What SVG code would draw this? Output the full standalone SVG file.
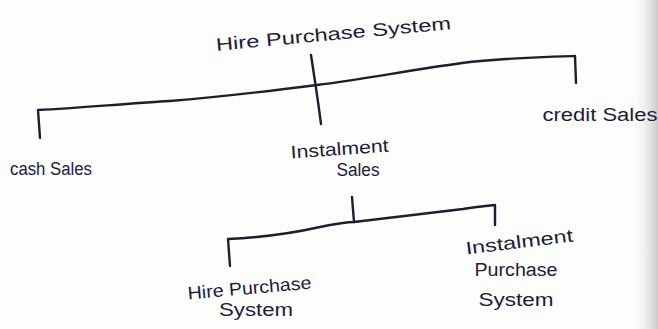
<svg xmlns="http://www.w3.org/2000/svg" width="658" height="329" viewBox="0 0 658 329">
  <defs>
    <linearGradient id="edge" x1="0" y1="0" x2="1" y2="0">
      <stop offset="0" stop-color="#ffffff" stop-opacity="0"/>
      <stop offset="1" stop-color="#bdbdbd" stop-opacity="0.8"/>
    </linearGradient>
    <style>
      .ln { fill: none; stroke: #1c1c34; stroke-width: 2.4; stroke-linecap: round; stroke-linejoin: round; }
      .tx { font-family: "Liberation Sans", "DejaVu Sans", sans-serif; fill: #1c1c3c; font-size: 18px; }
    </style>
  </defs>
  <rect width="658" height="329" fill="#fdfdfc"/>
  <rect x="630" y="0" width="28" height="329" fill="url(#edge)"/>

  <g id="connectors">
    <path class="ln" d="M311,55 C314,75 318,100 321,124"/>
    <path class="ln" d="M40,138 L38,110 C80,108 120,104 170,101 C220,97 270,91 317,85 C360,80 410,70 462,63 C500,58 540,57 575,56 L576,83"/>
    <path class="ln" d="M352,197 L354,222"/>
    <path class="ln" d="M230,266 L228,239 C250,238 280,236 320,227 C335,224 345,222 354,222 C380,219 420,214 463,209 C475,207 485,206 495,205 L495,225"/>
  </g>

  <g id="node-root">
    <text class="tx" x="334" y="40" text-anchor="middle" font-size="23" textLength="236" lengthAdjust="spacingAndGlyphs" transform="rotate(-5.3 334 40)">Hire Purchase System</text>
  </g>
  <g id="node-cash">
    <text class="tx" x="51" y="175" text-anchor="middle" font-size="17" textLength="82" lengthAdjust="spacingAndGlyphs">cash Sales</text>
  </g>
  <g id="node-instalment-sales">
    <text class="tx" x="340" y="155" text-anchor="middle" font-size="18" textLength="98" lengthAdjust="spacingAndGlyphs" transform="rotate(-4 340 155)">Instalment</text>
    <text class="tx" x="358" y="176" text-anchor="middle" font-size="18" textLength="43" lengthAdjust="spacingAndGlyphs">Sales</text>
  </g>
  <g id="node-credit">
    <text class="tx" x="600" y="121" text-anchor="middle" font-size="18" textLength="115" lengthAdjust="spacingAndGlyphs">credit Sales</text>
  </g>
  <g id="node-hire-purchase">
    <text class="tx" x="250" y="294" text-anchor="middle" font-size="18" textLength="124" lengthAdjust="spacingAndGlyphs" transform="rotate(-5 250 294)">Hire Purchase</text>
    <text class="tx" x="256" y="316" text-anchor="middle" font-size="18" textLength="74" lengthAdjust="spacingAndGlyphs">System</text>
  </g>
  <g id="node-instalment-purchase">
    <text class="tx" x="520" y="248" text-anchor="middle" font-size="18" textLength="108" lengthAdjust="spacingAndGlyphs" transform="rotate(-7 520 248)">Instalment</text>
    <text class="tx" x="516" y="276" text-anchor="middle" font-size="18" textLength="83" lengthAdjust="spacingAndGlyphs">Purchase</text>
    <text class="tx" x="516" y="306" text-anchor="middle" font-size="18" textLength="75" lengthAdjust="spacingAndGlyphs">System</text>
  </g>
</svg>
